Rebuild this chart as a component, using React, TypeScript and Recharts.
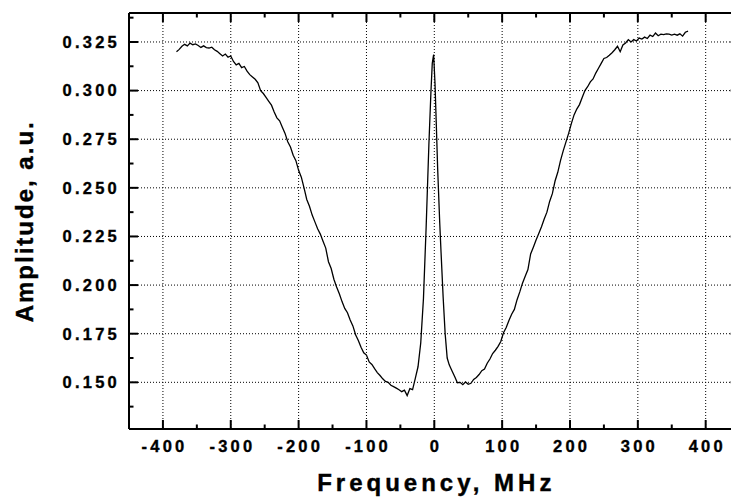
import React from 'react';
import { LineChart, Line, XAxis, YAxis, CartesianGrid } from 'recharts';

const freq: number[] = [
  -380, -376, -372, -368, -364, -360, -356, -352, -348, -344, -340, -336, -332, -328, -324, -320,
  -316, -312, -308, -304, -300, -296, -292, -288, -284, -280, -276, -272, -268, -264, -260, -256,
  -252, -248, -244, -240, -236, -232, -228, -224, -220, -216, -212, -208, -204, -200, -196, -192,
  -188, -184, -180, -176, -172, -168, -164, -160, -156, -152, -148, -144, -140, -136, -132, -128,
  -124, -120, -116, -112, -108, -104, -100, -96, -92, -88, -84, -80, -76, -72, -68, -64,
  -60, -56, -52, -48, -44, -40, -36, -32, -28, -24, -20, -16, -12, -8, -5, -3,
  -1, 1, 3, 5, 8, 10, 13, 16, 19, 22, 26, 30, 34, 38, 42, 46,
  50, 54, 58, 62, 66, 70, 74, 78, 82, 86, 90, 94, 98, 102, 106, 110,
  114, 118, 122, 126, 130, 134, 138, 142, 146, 150, 154, 158, 162, 166, 170, 174,
  178, 182, 186, 190, 194, 198, 202, 206, 210, 214, 218, 222, 226, 230, 234, 238,
  242, 246, 250, 254, 258, 262, 266, 270, 274, 278, 282, 286, 290, 294, 298, 302,
  306, 310, 314, 318, 322, 326, 330, 334, 338, 342, 346, 350, 354, 358, 362, 366,
  370, 374,
];

const amplitude: number[] = [
  0.3200, 0.3212, 0.3228, 0.3238, 0.3230, 0.3244, 0.3236, 0.3240, 0.3232, 0.3222, 0.3230, 0.3221, 0.3219, 0.3223, 0.3210, 0.3202,
  0.3190, 0.3178, 0.3188, 0.3172, 0.3178, 0.3150, 0.3132, 0.3140, 0.3118, 0.3124, 0.3100, 0.3082, 0.3070, 0.3058, 0.3040, 0.3000,
  0.2985, 0.2965, 0.2945, 0.2925, 0.2890, 0.2860, 0.2845, 0.2812, 0.2780, 0.2737, 0.2710, 0.2668, 0.2640, 0.2590, 0.2555, 0.2500,
  0.2440, 0.2405, 0.2360, 0.2325, 0.2290, 0.2262, 0.2225, 0.2190, 0.2120, 0.2085, 0.2030, 0.1990, 0.1955, 0.1915, 0.1880, 0.1858,
  0.1820, 0.1790, 0.1745, 0.1715, 0.1680, 0.1652, 0.1640, 0.1605, 0.1592, 0.1570, 0.1550, 0.1535, 0.1518, 0.1505, 0.1500, 0.1485,
  0.1478, 0.1470, 0.1462, 0.1452, 0.1460, 0.1432, 0.1468, 0.1462, 0.1520, 0.1580, 0.1702, 0.1930, 0.2300, 0.2720, 0.2990, 0.3140,
  0.3185, 0.3040, 0.2820, 0.2594, 0.2320, 0.2165, 0.1940, 0.1750, 0.1625, 0.1590, 0.1560, 0.1530, 0.1498, 0.1500, 0.1488, 0.1502,
  0.1490, 0.1495, 0.1515, 0.1525, 0.1540, 0.1560, 0.1568, 0.1598, 0.1620, 0.1648, 0.1665, 0.1685, 0.1710, 0.1755, 0.1782, 0.1818,
  0.1850, 0.1875, 0.1925, 0.1965, 0.2010, 0.2045, 0.2080, 0.2160, 0.2195, 0.2232, 0.2265, 0.2300, 0.2340, 0.2375, 0.2430, 0.2470,
  0.2535, 0.2580, 0.2640, 0.2690, 0.2735, 0.2780, 0.2830, 0.2875, 0.2905, 0.2928, 0.2965, 0.3000, 0.3020, 0.3045, 0.3060, 0.3090,
  0.3115, 0.3140, 0.3165, 0.3170, 0.3182, 0.3195, 0.3210, 0.3228, 0.3200, 0.3235, 0.3245, 0.3262, 0.3250, 0.3262, 0.3255, 0.3270,
  0.3265, 0.3275, 0.3268, 0.3285, 0.3278, 0.3296, 0.3282, 0.3290, 0.3288, 0.3292, 0.3290, 0.3285, 0.3290, 0.3285, 0.3292, 0.3280,
  0.3300, 0.3306,
];

const xTicks: number[] = [-450, -400, -350, -300, -250, -200, -150, -100, -50, 0, 50, 100, 150, 200, 250, 300, 350, 400, 450];
const xMajor: number[] = [-400, -300, -200, -100, 0, 100, 200, 300, 400];
const yTicks: number[] = [0.1375, 0.15, 0.1625, 0.175, 0.1875, 0.2, 0.2125, 0.225, 0.2375, 0.25, 0.2625, 0.275, 0.2875, 0.3, 0.3125, 0.325, 0.3375];
const yMajor: number[] = [0.15, 0.175, 0.2, 0.225, 0.25, 0.275, 0.3, 0.325];

const data = freq.map((f, i) => ({ f, a: amplitude[i] }));

const FONT = '"Liberation Sans", Arial, sans-serif';
const TICK_FS = 16.5;
const TICK_LS = 3.2;
const Y_DOMAIN: [number, number] = [0.126, 0.3399];

const isMajorX = (v: number) => Math.abs(v % 100) < 1e-6 && Math.abs(v) < 450;
const isMajorY = (v: number) => Math.abs(v * 40 - Math.round(v * 40)) < 1e-6;

const BottomTick = (props: any) => {
  const { x, y, payload } = props;
  const v = payload.value as number;
  const major = isMajorX(v);
  return (
    <g>
      <line x1={x} y1={y} x2={x} y2={y - (major ? 9 : 4.5)} stroke="#000" strokeWidth={2} />
      {major && (
        <text x={x} y={y + 23} dx={TICK_LS / 2} textAnchor="middle" fontSize={TICK_FS} fontWeight="bold" fontFamily={FONT} letterSpacing={TICK_LS} fill="#000" stroke="#000" strokeWidth={0.35}>
          {String(v)}
        </text>
      )}
    </g>
  );
};

const TopTick = (props: any) => {
  const { x, y, payload } = props;
  const v = payload.value as number;
  const major = isMajorX(v);
  return <line x1={x} y1={y} x2={x} y2={y + (major ? 9 : 4.5)} stroke="#000" strokeWidth={2} />;
};

const LeftTick = (props: any) => {
  const { x, y, payload } = props;
  const v = payload.value as number;
  const major = isMajorY(v);
  return (
    <g>
      <line x1={x} y1={y} x2={x + (major ? 9 : 4.5)} y2={y} stroke="#000" strokeWidth={2} />
      {major && (
        <text x={x - 9.1} y={y + 5.9} textAnchor="end" fontSize={TICK_FS} fontWeight="bold" fontFamily={FONT} letterSpacing={TICK_LS} fill="#000" stroke="#000" strokeWidth={0.35}>
          {v.toFixed(3)}
        </text>
      )}
    </g>
  );
};

const RightTick = (props: any) => {
  const { x, y, payload } = props;
  const v = payload.value as number;
  const major = isMajorY(v);
  return <line x1={x} y1={y} x2={x - (major ? 9 : 4.5)} y2={y} stroke="#000" strokeWidth={2} />;
};

const XLabel = (props: any) => {
  const vb = props.viewBox || {};
  const cx = vb.x + vb.width / 2;
  return (
    <text x={cx} y={vb.y + 62} dx={2} textAnchor="middle" fontSize={24} fontWeight="bold" fontFamily={FONT} letterSpacing={4} fill="#000" stroke="#000" strokeWidth={0.4}>
      Frequency, MHz
    </text>
  );
};

const YLabel = (props: any) => {
  const vb = props.viewBox || {};
  const cy = vb.y + vb.height / 2 + 1.3;
  const x = 25.3;
  return (
    <text x={x} y={cy} transform={`rotate(-90, ${x}, ${cy})`} dx={1} textAnchor="middle" fontSize={24} fontWeight="bold" fontFamily={FONT} letterSpacing={2} fill="#000" stroke="#000" strokeWidth={0.4}>
      Amplitude, a.u.
    </text>
  );
};

const axisLine = { stroke: '#000', strokeWidth: 2 };

export default function App() {
  return (
    <div style={{ position: 'absolute', left: 8, top: 8, width: 723, height: 489, overflow: 'hidden', background: '#fff' }}>
      <LineChart width={740} height={489} data={data} margin={{ top: 0, right: 0, left: 0, bottom: 0 }}>
        <CartesianGrid
          verticalValues={xMajor}
          horizontalValues={yMajor}
          stroke="#000"
          strokeDasharray="1 2"
          strokeWidth={1}
        />
        <XAxis
          dataKey="f"
          type="number"
          domain={[-450, 450]}
          allowDataOverflow
          ticks={xTicks}
          interval={0}
          tickSize={0}
          tickMargin={0}
          tickLine={false}
          tick={<BottomTick />}
          stroke="#000"
          axisLine={axisLine}
          height={68}
          label={XLabel}
        />
        <XAxis
          xAxisId="top"
          orientation="top"
          dataKey="f"
          type="number"
          domain={[-450, 450]}
          allowDataOverflow
          ticks={xTicks}
          interval={0}
          tickSize={0}
          tickMargin={0}
          tickLine={false}
          tick={<TopTick />}
          stroke="#000"
          axisLine={axisLine}
          height={5}
        />
        <YAxis
          type="number"
          domain={Y_DOMAIN}
          allowDataOverflow
          ticks={yTicks}
          interval={0}
          tickSize={0}
          tickMargin={0}
          tickLine={false}
          tick={<LeftTick />}
          stroke="#000"
          axisLine={axisLine}
          width={121}
          label={YLabel}
        />
        <YAxis
          yAxisId="right"
          orientation="right"
          type="number"
          domain={Y_DOMAIN}
          allowDataOverflow
          ticks={yTicks}
          interval={0}
          tickSize={0}
          tickMargin={0}
          tickLine={false}
          tick={<RightTick />}
          stroke="#000"
          axisLine={axisLine}
          width={8.4}
        />
        <Line
          type="linear"
          dataKey="a"
          stroke="#000"
          strokeWidth={1.3}
          dot={false}
          activeDot={false}
          isAnimationActive={false}
        />
      </LineChart>
    </div>
  );
}
